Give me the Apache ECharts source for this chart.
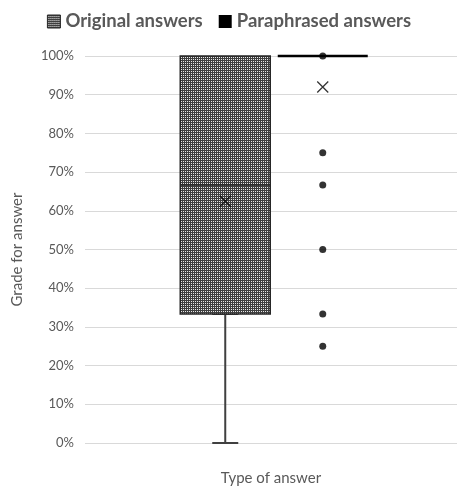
<!DOCTYPE html>
<html><head><meta charset="utf-8">
<script src="https://cdn.jsdelivr.net/npm/echarts@6/dist/echarts.min.js"></script>
<style>html,body{margin:0;padding:0;background:#fff}#c{width:458px;height:490px}</style>
</head><body><div id="c"></div>
<script>
// ---- data ----
const seriesNames = ['Original answers', 'Paraphrased answers'];
const yTicks = [0, 10, 20, 30, 40, 50, 60, 70, 80, 90, 100];
// [min, Q1, median, Q3, max] in percent
const originalBox = [0, 33.33, 66.67, 100, 100];
const paraphrasedBox = [100, 100, 100, 100, 100];
const originalMean = 62.5;
const paraphrasedMean = 92;
const paraphrasedOutliers = [100, 75, 66.67, 50, 33.33, 25];
const xAxisTitle = 'Type of answer';
const yAxisTitle = 'Grade for answer';

// pattern fill
const tile = document.createElement('canvas');
tile.width = 2; tile.height = 2;
const tc = tile.getContext('2d');
tc.fillStyle = '#3f3f3f'; tc.fillRect(0, 0, 2, 2);
tc.fillStyle = '#e8e8e8'; tc.fillRect(1, 1, 1, 1);
const pattern = { image: tile, repeat: 'repeat' };

const FONT = 'Lato';
const GRAY = '#595959';
const cats = ['o', 'p'];
const hiddenX = () => ({
  type: 'category', gridIndex: 1, data: cats, show: false
});

const chart = echarts.init(document.getElementById('c'), null, { renderer: 'canvas' });
chart.setOption({
  animation: false,
  textStyle: { fontFamily: FONT },
  legend: {
    data: [
      { name: seriesNames[0], itemStyle: { color: pattern, borderColor: '#262626', borderWidth: 1 } },
      { name: seriesNames[1], itemStyle: { color: '#000', borderWidth: 0 } }
    ],
    top: 7, left: 'center',
    icon: 'rect', itemWidth: 13, itemHeight: 13, itemGap: 16,
    textStyle: { fontFamily: FONT, fontSize: 18.5, fontWeight: 'bold', color: GRAY }
  },
  grid: [
    { left: 85, right: 1, top: 56, bottom: 47, containLabel: false, outerBoundsMode: 'none' },
    { left: 176.5, width: 195, top: 56, bottom: 47, containLabel: false, outerBoundsMode: 'none' }
  ],
  xAxis: [
    {
      type: 'category', gridIndex: 0, data: [''],
      axisLine: { show: false }, axisTick: { show: false }, axisLabel: { show: false },
      name: xAxisTitle, nameLocation: 'middle', nameGap: 28,
      nameTextStyle: { fontFamily: FONT, fontSize: 15, color: GRAY }
    },
    hiddenX(), hiddenX(), hiddenX(), hiddenX()
  ],
  yAxis: [
    {
      type: 'value', gridIndex: 0, min: yTicks[0], max: yTicks[yTicks.length - 1], interval: 10,
      axisLine: { show: false }, axisTick: { show: false },
      axisLabel: { formatter: '{value}%', fontFamily: FONT, fontSize: 13, color: GRAY, margin: 11 },
      splitLine: { lineStyle: { color: '#d9d9d9', width: 1 } },
      name: yAxisTitle, nameLocation: 'middle', nameGap: 60,
      nameTextStyle: { fontFamily: FONT, fontSize: 15, color: GRAY }
    },
    {
      type: 'value', gridIndex: 1, min: 0, max: 100, show: false, splitLine: { show: false }
    }
  ],
  series: [
    {
      name: 'whisker', type: 'boxplot', xAxisIndex: 3, yAxisIndex: 1,
      boxWidth: [26, 26], silent: true, z: 1,
      itemStyle: { color: 'transparent', borderColor: '#404040', borderWidth: 2 },
      data: [[originalBox[0], originalBox[0], originalBox[0], originalBox[0], originalBox[1]]]
    },
    {
      name: seriesNames[0], type: 'boxplot', xAxisIndex: 1, yAxisIndex: 1,
      boxWidth: [90, 90], z: 2,
      itemStyle: { color: pattern, borderColor: '#262626', borderWidth: 1.5 },
      data: [[originalBox[1], originalBox[1], originalBox[2], originalBox[3], originalBox[4]]]
    },
    {
      name: seriesNames[1], type: 'boxplot', xAxisIndex: 2, yAxisIndex: 1,
      boxWidth: [90, 90], z: 2,
      encode: { x: 0, y: [1, 2, 3, 4, 5] },
      itemStyle: { color: '#000', borderColor: '#000', borderWidth: 2.5 },
      data: [[1].concat(paraphrasedBox)]
    },
    {
      name: 'means', type: 'scatter', xAxisIndex: 4, yAxisIndex: 1, z: 5,
      symbol: 'path://M0,0L10,10M10,0L0,10', symbolSize: 11,
      itemStyle: { color: 'transparent', borderColor: '#000', borderWidth: 1.3 },
      data: [[0, originalMean], [1, paraphrasedMean]]
    },
    {
      name: 'outliers', type: 'scatter', xAxisIndex: 4, yAxisIndex: 1, z: 5,
      symbol: 'circle', symbolSize: 7,
      itemStyle: { color: '#000' },
      data: paraphrasedOutliers.map(v => [1, v])
    }
  ]
});
</script>
</body></html>
